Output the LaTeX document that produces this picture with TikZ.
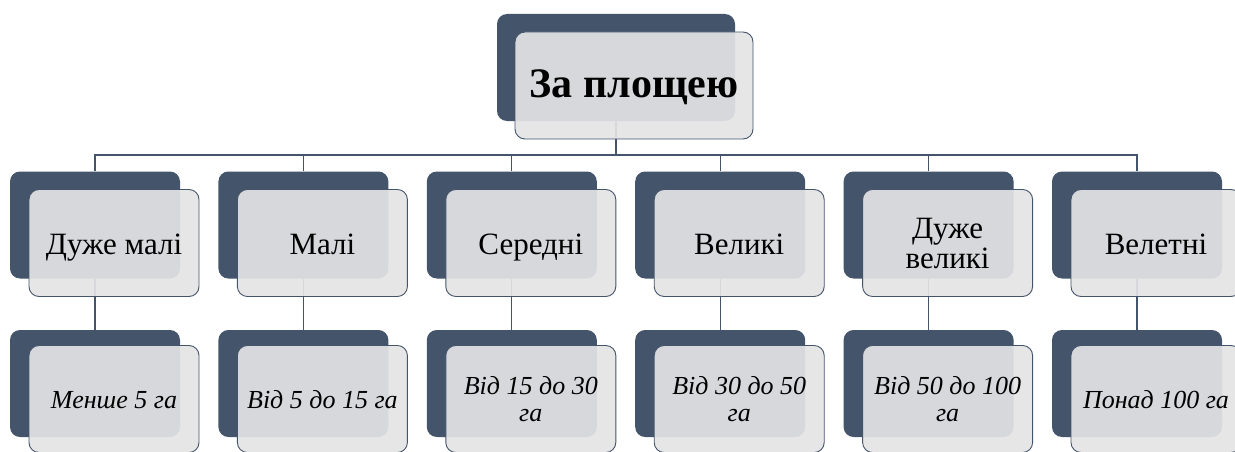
\documentclass[tikz,border=0pt]{standalone}
\usepackage{fontspec}
\setmainfont{Liberation Serif}
\definecolor{slate}{HTML}{44546A}
\definecolor{paper}{RGB}{228,228,229}
\begin{document}
\begin{tikzpicture}[x=1pt,y=-1pt,
  back/.style={rectangle,rounded corners=10pt,fill=slate,draw=none,
    minimum width=170pt,minimum height=107pt,inner sep=0pt},
  front/.style={rectangle,rounded corners=10pt,fill=paper,fill opacity=0.92,
    draw=slate,line width=0.9pt,
    minimum width=170pt,minimum height=107pt,inner sep=0pt},
  txt/.style={inner sep=0pt,align=center,text=black},
  lvltop/.style={txt,font=\fontsize{42}{46}\selectfont\bfseries},
  lvltwo/.style={txt,font=\fontsize{31}{30}\selectfont},
  lvlthree/.style={txt,font=\fontsize{26}{27}\selectfont\itshape},
  conn/.style={draw=slate,line width=1.1pt}]
\useasboundingbox (0,0) rectangle (1235,452);
% top
\node[back,minimum width=238pt] (tb) at (616,67.5) {};
\coordinate (bus) at (0,155);
% level-2 and level-3 back boxes
\foreach \i in {0,...,5}{
  \node[back] (b\i) at ({95+208.4*\i},225) {};
  \node[back] (c\i) at ({95+208.4*\i},383.5) {};
}
% connectors
\foreach \i in {0,...,5}{
  \draw[conn] (tb.south) -- (tb.south |- bus) -| (b\i.north);
  \draw[conn] (b\i.south) -- (c\i.north);
}
% front boxes
\node[front,minimum width=238pt] (tf) at (634,85.5) {};
\foreach \i in {0,...,5}{
  \node[front] (f\i) at ({114+208.4*\i},243) {};
  \node[front] (g\i) at ({114+208.4*\i},399) {};
}
% texts
\node[lvltop] (tt) at (634,88) {\strut За площею};
\node[lvltwo] (s0) at ({114+208.4*0},248) {\strut Дуже малі};
\node[lvltwo] (s1) at ({114+208.4*1},248) {\strut Малі};
\node[lvltwo] (s2) at ({114+208.4*2},248) {\strut Середні};
\node[lvltwo] (s3) at ({114+208.4*3},248) {\strut Великі};
\node[lvltwo] (s4) at ({114+208.4*4},247) {\strut Дуже\\\strut великі};
\node[lvltwo] (s5) at ({114+208.4*5},248) {\strut Велетні};
\node[lvlthree] (u0) at ({114+208.4*0},402.6) {\strut Менше 5 га};
\node[lvlthree] (u1) at ({114+208.4*1},402.6) {\strut Від 5 до 15 га};
\node[lvlthree] (u2) at ({114+208.4*2},403) {\strut Від 15 до 30\\\strut га};
\node[lvlthree] (u3) at ({114+208.4*3},403) {\strut Від 30 до 50\\\strut га};
\node[lvlthree] (u4) at ({114+208.4*4},403) {\strut Від 50 до 100\\\strut га};
\node[lvlthree] (u5) at ({114+208.4*5},402.6) {\strut Понад 100 га};
\end{tikzpicture}
\end{document}
